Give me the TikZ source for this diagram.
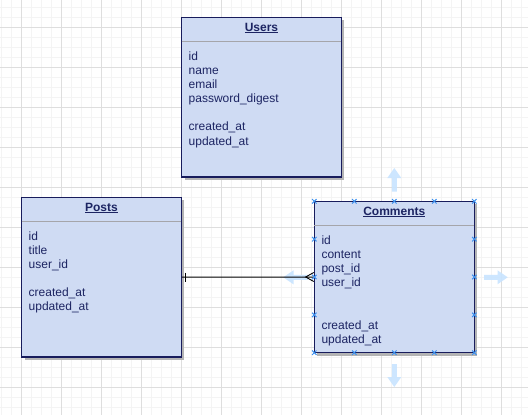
\documentclass[tikz,border=0pt]{standalone}
\usepackage{fontspec}
\setmainfont{Liberation Sans}
\usetikzlibrary{shadows}
\definecolor{boxfill}{RGB}{207,219,243}
\definecolor{boxline}{RGB}{24,28,92}
\definecolor{boxtext}{RGB}{28,36,98}
\definecolor{sepc}{RGB}{165,165,170}
\definecolor{shadowc}{RGB}{180,180,180}
\definecolor{gridminor}{RGB}{244,244,244}
\definecolor{gridmajor}{RGB}{222,222,222}
\definecolor{handlec}{RGB}{60,145,240}
\definecolor{hintc}{RGB}{200,228,255}
\tikzset{
  entity/.style={draw=boxline, line width=1.2pt, fill=boxfill, rectangle, inner sep=0pt,
    drop shadow={shadow xshift=3pt, shadow yshift=-3pt, fill=shadowc, opacity=1}},
  etitle/.style={anchor=base, inner sep=0pt, text=boxtext, font=\fontsize{12}{14}\selectfont\bfseries},
  field/.style={anchor=base west, inner sep=0pt, text=boxtext, font=\fontsize{12}{14}\selectfont},
  sepline/.style={draw=sepc, line width=1pt},
  conn/.style={draw=black, line width=1pt},
  handle/.style={draw=handlec, line width=1pt},
  hint/.style={fill=hintc, fill opacity=0.9, draw=none},
}
\begin{document}
\begin{tikzpicture}[x=1pt,y=-1pt]
\useasboundingbox (0,0) rectangle (528,415);
\fill[white] (0,0) rectangle (528,415);
% grid
\foreach \x in {1.3,11.3,...,528} \draw[gridminor, line width=0.8pt] (\x,0) -- (\x,415);
\foreach \y in {7.3,17.3,...,415} \draw[gridminor, line width=0.8pt] (0,\y) -- (528,\y);
\foreach \x in {21.3,61.3,...,528} \draw[gridmajor, line width=0.8pt] (\x,0) -- (\x,415);
\foreach \y in {27.3,67.3,...,415} \draw[gridmajor, line width=0.8pt] (0,\y) -- (528,\y);

% entities
\node[entity, minimum width=159.6pt, minimum height=159.7pt] (users) at (261.5,97.15) {};
\node[entity, minimum width=159.6pt, minimum height=159.7pt] (posts) at (101.5,277.15) {};
\node[entity, minimum width=160pt, minimum height=151.4pt] (comments) at (394.3,277) {};

% separators
\foreach \e in {users,posts,comments}
  \draw[sepline] ([xshift=0.6pt,yshift=-24.4pt]\e.north west) -- ([xshift=-0.6pt,yshift=-24.4pt]\e.north east);

% titles
\node[etitle] (usersT) at ([yshift=-14.3pt]users.north) {\underline{Users}};
\node[etitle] (postsT) at ([yshift=-14.3pt]posts.north) {\underline{Posts}};
\node[etitle] (commentsT) at ([yshift=-14.3pt]comments.north) {\underline{Comments}};

% fields
\foreach \t/\k [count=\i] in {id/0,name/1,email/2,password\_digest/3,created\_at/5,updated\_at/6}
  \node[field] (u\i) at ([xshift=7.4pt,yshift={-43.3pt-14.17pt*\k}]users.north west) {\t};
\foreach \t/\k [count=\i] in {id/0,title/1,user\_id/2,created\_at/4,updated\_at/5}
  \node[field] (p\i) at ([xshift=7.4pt,yshift={-43.3pt-14.17pt*\k}]posts.north west) {\t};
\foreach \t/\k [count=\i] in {id/0,content/1,post\_id/2,user\_id/3,created\_at/6,updated\_at/7}
  \node[field] (c\i) at ([xshift=7.6pt,yshift={-43.3pt-14.17pt*\k}]comments.north west) {\t};

% hint arrows around selected entity
\fill[hint] (391.8,191.7) -- (391.8,178) -- (387.3,178) -- (394.3,168) -- (401.3,178) -- (396.8,178) -- (396.8,191.7) -- cycle;
\fill[hint] (391.8,364) -- (391.8,377) -- (387.3,377) -- (394.3,387) -- (401.3,377) -- (396.8,377) -- (396.8,364) -- cycle;
\fill[hint] (484,274.8) -- (497.5,274.8) -- (497.5,270.3) -- (507.7,277.3) -- (497.5,284.3) -- (497.5,279.8) -- (484,279.8) -- cycle;
\fill[hint] (308,274.8) -- (293.5,274.8) -- (293.5,270.3) -- (283.3,277.3) -- (293.5,284.3) -- (293.5,279.8) -- (308,279.8) -- cycle;

% connector
\draw[conn] (posts.east) -- (comments.west);
\draw[conn] ([xshift=3.7pt,yshift=4.5pt]posts.east) -- ([xshift=3.7pt,yshift=-4.5pt]posts.east);
\coordinate (cf) at ([xshift=-8pt]comments.west);
\draw[conn, line width=0.9pt] ([yshift=4.5pt]comments.west) -- (cf) -- ([yshift=-4.5pt]comments.west);

% selection handles
\foreach \x in {314.3,354.3,394.3,434.3,474.3}
  \foreach \y in {201.3,352.7}
    \draw[handle] (\x-2.2,\y-2.2) -- (\x+2.2,\y+2.2) (\x-2.2,\y+2.2) -- (\x+2.2,\y-2.2);
\foreach \x in {314.3,474.3}
  \foreach \y in {239.2,277,314.9}
    \draw[handle] (\x-2.2,\y-2.2) -- (\x+2.2,\y+2.2) (\x-2.2,\y+2.2) -- (\x+2.2,\y-2.2);
\end{tikzpicture}
\end{document}
